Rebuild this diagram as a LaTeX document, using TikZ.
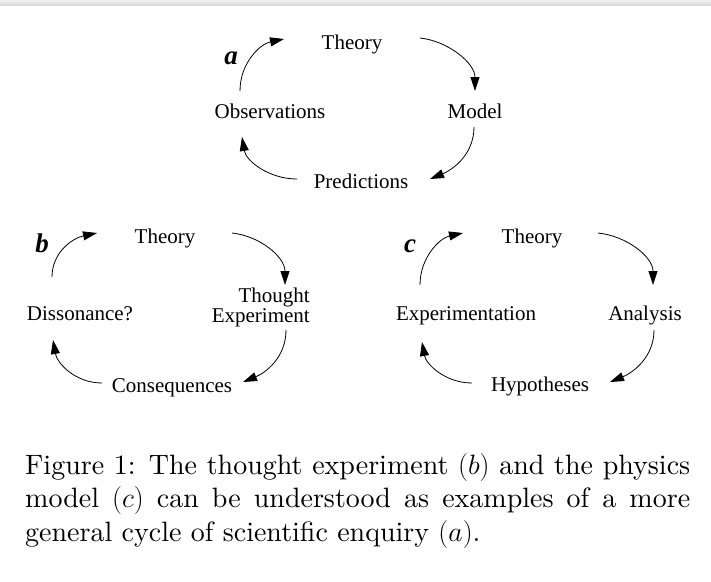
\RequirePackage{fix-cm}
\documentclass[tikz,border=0pt]{standalone}
\usepackage{fontspec}
\setmainfont{Liberation Serif}
\newfontfamily\capfont{lmroman10-regular}[Extension=.otf]
\usetikzlibrary{arrows.meta,calc}
\setlength{\parindent}{0pt}
\begin{document}
\begin{tikzpicture}[x=1pt,y=-1pt,
  lbl/.style={anchor=base, inner sep=0pt, font=\fontsize{21}{24}\selectfont},
  tag/.style={anchor=base, inner sep=0pt, font=\fontsize{27}{30}\selectfont\bfseries\itshape},
  arr/.style={-{Triangle[length=14pt,width=9pt]}, line width=0.8pt}]
\useasboundingbox (0,0) rectangle (711,581);
\fill[white] (0,0) rectangle (711,581);
\shade[top color=gray!12, bottom color=gray!30] (0,0) rectangle (711,5);

% ---- cycle a ----
\node[tag] (la) at (231,64) {a};
\node[lbl] (Ta) at (352,49) {Theory};
\node[lbl] (Oa) at (270,118) {Observations};
\node[lbl] (Ma) at (475,118) {Model};
\node[lbl] (Pa) at (361,188) {Predictions};
\draw[arr] ($(Oa.base)+(-30,-27)$) .. controls +(0,-28) and +(-24,5) .. ($(Ta.base)+(-68,-10)$);
\draw[arr] ($(Ta.base)+(68,-11)$) .. controls +(28,3) and +(0,-28) .. ($(Ma.base)+(0,-27)$);
\draw[arr] ($(Ma.base)+(-1,9)$) .. controls +(0,28) and +(22,-9) .. ($(Pa.base)+(69,-9)$);
\draw[arr] ($(Pa.base)+(-64,-9)$) .. controls +(-28,0) and +(4,24) .. ($(Oa.base)+(-28,19)$);

% ---- cycle b ----
\node[tag] (lb) at (42,252) {b};
\node[lbl] (Tb) at (165,243) {Theory};
\node[lbl] (Db) at (80,320) {Dissonance?};
\node[lbl, anchor=base east, align=right, font=\fontsize{21}{20}\selectfont] (TEb) at (310,322) {Thought\\Experiment};
\node[lbl] (Cb) at (172,392) {Consequences};
\draw[arr] ($(Db.base)+(-28,-43)$) .. controls +(0,-25) and +(-24,5) .. ($(Tb.base)+(-68,-10)$);
\draw[arr] ($(Tb.base)+(67,-10)$) .. controls +(28,3) and +(0,-28) .. ($(TEb.base east)+(-25,-37)$);
\draw[arr] ($(TEb.base east)+(-24,8)$) .. controls +(0,28) and +(22,-9) .. ($(Cb.base)+(71,-10)$);
\draw[arr] ($(Cb.base)+(-70,-9)$) .. controls +(-27,0) and +(4,23) .. ($(Db.base)+(-27,20)$);

% ---- cycle c ----
\node[tag] (lc) at (410,252) {c};
\node[lbl] (Tc) at (532,243) {Theory};
\node[lbl] (Ec) at (466,320) {Experimentation};
\node[lbl] (Ac) at (645,320) {Analysis};
\node[lbl] (Hc) at (540,391) {Hypotheses};
\draw[arr] ($(Ec.base)+(-46,-35)$) .. controls +(0,-28) and +(-23,5) .. ($(Tc.base)+(-69,-10)$);
\draw[arr] ($(Tc.base)+(66,-10)$) .. controls +(29,3) and +(0,-28) .. ($(Ac.base)+(8,-35)$);
\draw[arr] ($(Ac.base)+(9,10)$) .. controls +(0,28) and +(22,-9) .. ($(Hc.base)+(70,-9)$);
\draw[arr] ($(Hc.base)+(-68,-8)$) .. controls +(-27,0) and +(4,22) .. ($(Ec.base)+(-44,22)$);

% ---- caption ----
\node[anchor=base west, inner sep=0pt, text width=665pt, align=justify,
      font=\capfont\fontsize{28}{33.5}\selectfont] (cap) at (25,474)
  {Figure 1: The thought experiment $(b)$ and the physics\linebreak
   model $(c)$ can be understood as examples of a more\linebreak
   general cycle of scientific enquiry $(a)$.};
\end{tikzpicture}
\end{document}
